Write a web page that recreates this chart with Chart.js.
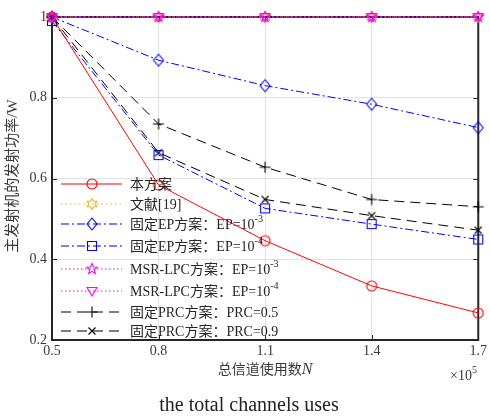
<!DOCTYPE html>
<html><head><meta charset="utf-8">
<script src="https://cdn.jsdelivr.net/npm/chart.js@4/dist/chart.umd.min.js"></script>
<style>html,body{margin:0;padding:0;background:#fff;}canvas{display:block;}</style>
</head><body>
<canvas id="c" width="490" height="417"></canvas>
<script>
// ---- data ----
const categories = [0.5, 0.8, 1.1, 1.4, 1.7];          // x (×10^5)
const proposed   = [1.00, 0.584, 0.446, 0.334, 0.267];
const ref19      = [1.00, 1.00, 1.00, 1.00, 1.00];
const fixedEP3   = [1.00, 0.893, 0.830, 0.784, 0.726];
const fixedEP4   = [0.99, 0.658, 0.526, 0.487, 0.449];
const msrEP3     = [1.00, 1.00, 1.00, 1.00, 1.00];
const msrEP4     = [1.00, 1.00, 1.00, 1.00, 1.00];
const prc05      = [1.00, 0.735, 0.628, 0.548, 0.530];
const prc09      = [1.00, 0.664, 0.548, 0.508, 0.472];
const xTicks = [0.5, 0.8, 1.1, 1.4, 1.7];
const yTicks = [0.2, 0.4, 0.6, 0.8, 1];
const seriesNames = ['本方案', '文献[19]', '固定EP方案：EP=10^{-3}', '固定EP方案：EP=10^{-4}',
  'MSR-LPC方案：EP=10^{-3}', 'MSR-LPC方案：EP=10^{-4}', '固定PRC方案：PRC=0.5', '固定PRC方案：PRC=0.9'];
const yTitle = '主发射机的发射功率/W';
const xTitle = '总信道使用数';
const xTitleVar = 'N';
const bottomCaption = 'the total channels uses';

// ---- markers ----
function marker(kind, color) {
  const s = 16, c = document.createElement('canvas');
  c.width = s; c.height = s;
  const g = c.getContext('2d');
  g.strokeStyle = color; g.lineWidth = 1.1;
  const m = s / 2;
  g.beginPath();
  if (kind === 'circle') { g.arc(m, m, 5, 0, Math.PI * 2); }
  else if (kind === 'square') { g.rect(m - 4.5, m - 4.5, 9, 9); }
  else if (kind === 'diamond') { g.moveTo(m, m - 6); g.lineTo(m + 5, m); g.lineTo(m, m + 6); g.lineTo(m - 5, m); g.closePath(); }
  else if (kind === 'plus') { g.moveTo(m - 5.5, m); g.lineTo(m + 5.5, m); g.moveTo(m, m - 5.5); g.lineTo(m, m + 5.5); }
  else if (kind === 'x') { g.moveTo(m - 3.5, m - 3.5); g.lineTo(m + 3.5, m + 3.5); g.moveTo(m + 3.5, m - 3.5); g.lineTo(m - 3.5, m + 3.5); }
  else if (kind === 'tridown') { g.moveTo(m - 5, m - 3.5); g.lineTo(m + 5, m - 3.5); g.lineTo(m, m + 5); g.closePath(); }
  else if (kind === 'pentagram' || kind === 'hexagram') {
    const n = kind === 'pentagram' ? 5 : 6, R = 5.5, r = kind === 'pentagram' ? 2.4 : 3.2;
    for (let i = 0; i < 2 * n; i++) {
      const a = -Math.PI / 2 + i * Math.PI / n, rr = i % 2 ? r : R;
      const px = m + rr * Math.cos(a), py = m + rr * Math.sin(a);
      i ? g.lineTo(px, py) : g.moveTo(px, py);
    }
    g.closePath();
  }
  g.stroke();
  return c;
}

const RED = '#ff0000', ORANGE = '#edb120', BLUE = '#0000ff', MAG = '#ff00ff', BLK = '#000000';
const styles = [
  { color: RED, dash: [], m: marker('circle', RED), order: 5 },
  { color: ORANGE, dash: [1.5, 3], m: marker('hexagram', ORANGE), order: 4 },
  { color: BLUE, dash: [8, 3, 2, 3], m: marker('diamond', BLUE), order: 6 },
  { color: BLUE, dash: [8, 3, 2, 3], m: marker('square', BLUE), order: 7 },
  { color: MAG, dash: [1.5, 2.5], m: marker('pentagram', MAG), order: 1 },
  { color: MAG, dash: [1.5, 2.5], m: marker('tridown', MAG), order: 0 },
  { color: BLK, dash: [10, 6], m: marker('plus', BLK), order: 3 },
  { color: BLK, dash: [10, 6], m: marker('x', BLK), order: 2 },
];
const seriesData = [proposed, ref19, fixedEP3, fixedEP4, msrEP3, msrEP4, prc05, prc09];

const datasets = seriesData.map((arr, i) => ({
  label: seriesNames[i],
  data: categories.map((x, j) => ({ x: x, y: arr[j] })),
  borderColor: styles[i].color,
  backgroundColor: styles[i].color,
  borderDash: styles[i].dash,
  borderWidth: 1,
  pointStyle: styles[i].m,
  pointRadius: 6,
  pointHoverRadius: 6,
  tension: 0,
  clip: false,
  order: styles[i].order,
}));

const LATIN = "'Liberation Serif', 'Noto Sans CJK SC'";
const TXT = '#3a3a3a';

// draw text with ^{...} superscripts
function richText(ctx, str, x, y, size) {
  const parts = str.split(/(\^\{[^}]*\})/);
  for (const p of parts) {
    if (!p) continue;
    if (p.startsWith('^{')) {
      const t = p.slice(2, -1);
      ctx.font = (size * 0.72) + 'px ' + LATIN;
      ctx.fillText(t, x, y - size * 0.42);
      x += ctx.measureText(t).width;
    } else {
      ctx.font = size + 'px ' + LATIN;
      ctx.fillText(p, x, y);
      x += ctx.measureText(p).width;
    }
  }
  return x;
}

const framePlugin = {
  id: 'frame',
  beforeDatasetsDraw(chart) {
    const { ctx, chartArea: a, scales } = chart;
    ctx.save();
    ctx.strokeStyle = '#262626'; ctx.lineWidth = 1;
    // inward ticks
    for (const v of xTicks) {
      const px = Math.round(scales.x.getPixelForValue(v)) + 0.5;
      ctx.beginPath(); ctx.moveTo(px, a.bottom); ctx.lineTo(px, a.bottom - 5);
      ctx.moveTo(px, a.top); ctx.lineTo(px, a.top + 5); ctx.stroke();
    }
    for (const v of yTicks) {
      const py = Math.round(scales.y.getPixelForValue(v)) + 0.5;
      ctx.beginPath(); ctx.moveTo(a.left, py); ctx.lineTo(a.left + 5, py);
      ctx.moveTo(a.right, py); ctx.lineTo(a.right - 5, py); ctx.stroke();
    }
    ctx.lineWidth = 2;
    ctx.strokeRect(a.left, a.top, a.right - a.left, a.bottom - a.top);
    ctx.restore();
  },
  afterDraw(chart) {
    const { ctx, chartArea: a } = chart;
    ctx.save();
    // legend
    const ly = [184, 204, 224, 246, 269, 291, 312, 331];
    ctx.textBaseline = 'middle';
    for (let i = 0; i < seriesNames.length; i++) {
      const st = styles[i], y = ly[i];
      ctx.strokeStyle = st.color; ctx.lineWidth = 1; ctx.setLineDash(st.dash);
      ctx.beginPath(); ctx.moveTo(61, y); ctx.lineTo(122, y); ctx.stroke();
      ctx.setLineDash([]);
      ctx.drawImage(st.m, 92 - 8, y - 8);
      ctx.fillStyle = '#262626';
      richText(ctx, seriesNames[i], 130, y + 1, 14);
    }
    ctx.fillStyle = TXT;
    // y title
    ctx.save();
    ctx.translate(13, 176); ctx.rotate(-Math.PI / 2);
    ctx.textAlign = 'center'; ctx.textBaseline = 'middle';
    ctx.font = '15px ' + LATIN;
    ctx.fillText(yTitle, 0, 0);
    ctx.restore();
    // x title
    ctx.textBaseline = 'middle'; ctx.textAlign = 'left';
    ctx.font = '14px ' + LATIN;
    const w1 = ctx.measureText(xTitle).width;
    ctx.font = 'italic 16px ' + LATIN;
    const w2 = ctx.measureText(xTitleVar).width;
    let x0 = (a.left + a.right) / 2 - (w1 + w2) / 2;
    ctx.font = '14px ' + LATIN; ctx.fillText(xTitle, x0, 370);
    ctx.font = 'italic 16px ' + LATIN; ctx.fillText(xTitleVar, x0 + w1, 370);
    // ×10^5
    richText(ctx, '×10^{5}', 450, 376, 14);
    // caption
    ctx.textAlign = 'center';
    ctx.font = '20px ' + LATIN;
    ctx.fillStyle = '#222';
    ctx.fillText(bottomCaption, 249, 406);
    ctx.restore();
  }
};

new Chart(document.getElementById('c'), {
  type: 'line',
  data: { datasets },
  options: {
    responsive: false,
    animation: false,
    layout: { padding: { top: 17, right: 7, left: 0, bottom: 0 } },
    plugins: { legend: { display: false }, tooltip: { enabled: false } },
    scales: {
      x: {
        type: 'linear', min: 0.5, max: 1.7,
        afterFit(s) { s.height = 77; },
        afterBuildTicks(s) { s.ticks = xTicks.map(v => ({ value: v })); },
        ticks: { color: TXT, font: { family: LATIN, size: 14 }, padding: 3, maxRotation: 0,
          callback: v => v.toFixed(1) },
        grid: { color: '#e3e3e3', drawTicks: false, lineWidth: 1 },
        border: { display: false },
      },
      y: {
        type: 'linear', min: 0.2, max: 1,
        afterFit(s) { s.width = 52; },
        afterBuildTicks(s) { s.ticks = yTicks.map(v => ({ value: v })); },
        ticks: { color: TXT, font: { family: LATIN, size: 14 }, padding: 5,
          callback: v => (v === 1 ? '1' : v.toFixed(1)) },
        grid: { color: '#e3e3e3', drawTicks: false, lineWidth: 1 },
        border: { display: false },
      }
    }
  },
  plugins: [framePlugin]
});
</script>
</body></html>
